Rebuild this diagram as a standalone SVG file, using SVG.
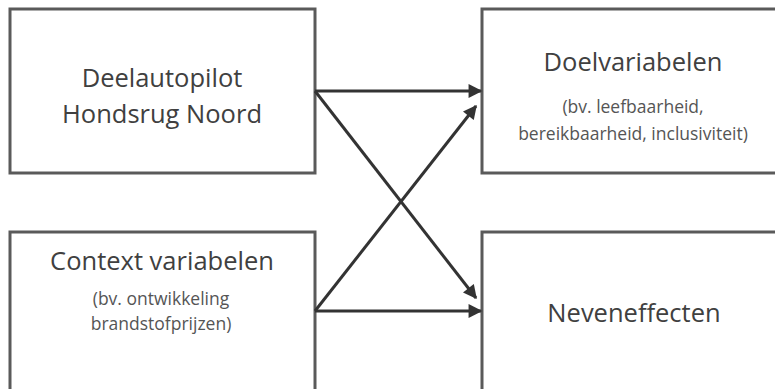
<svg xmlns="http://www.w3.org/2000/svg" width="775" height="389" viewBox="0 0 775 389">
<defs>
<style>
.box{fill:#fff;stroke:#5a5a5a;stroke-width:3}
.t{font-family:"Open Sans","Liberation Sans",sans-serif;fill:#404040;text-anchor:middle}
.big{font-size:25.5px}
.small{font-size:17.5px;fill:#555}
.c{stroke:#333;stroke-width:3;fill:none;marker-end:url(#ah)}
</style>
<marker id="ah" viewBox="0 0 10 10" refX="9" refY="5" markerWidth="5.2" markerHeight="4.6" markerUnits="strokeWidth" orient="auto">
<path d="M0,0 L10,5 L0,10 Z" fill="#333"/>
</marker>
</defs>
<rect width="775" height="389" fill="#fff"/>
<g id="node-deelautopilot">
<rect class="box" x="10" y="9" width="305" height="164"/>
<text class="t big" x="162" y="87">Deelautopilot</text>
<text class="t big" x="162" y="123">Hondsrug Noord</text>
</g>
<g id="node-doelvariabelen">
<rect class="box" x="482" y="9" width="310" height="164"/>
<text class="t big" x="633" y="71">Doelvariabelen</text>
<text class="t small" x="633" y="113">(bv. leefbaarheid,</text>
<text class="t small" x="633" y="140">bereikbaarheid, inclusiviteit)</text>
</g>
<g id="node-context">
<rect class="box" x="10" y="232" width="305" height="160"/>
<text class="t big" x="162" y="270">Context variabelen</text>
<text class="t small" x="161" y="305">(bv. ontwikkeling</text>
<text class="t small" x="161" y="330">brandstofprijzen)</text>
</g>
<g id="node-neveneffecten">
<rect class="box" x="482" y="232" width="310" height="160"/>
<text class="t big" x="634" y="322">Neveneffecten</text>
</g>
<g id="connectors">
<line class="c" x1="315" y1="91" x2="481" y2="91"/>
<line class="c" x1="315" y1="91" x2="476" y2="298"/>
<line class="c" x1="315" y1="311" x2="476" y2="106"/>
<line class="c" x1="315" y1="311" x2="481" y2="311"/>
</g>
</svg>
